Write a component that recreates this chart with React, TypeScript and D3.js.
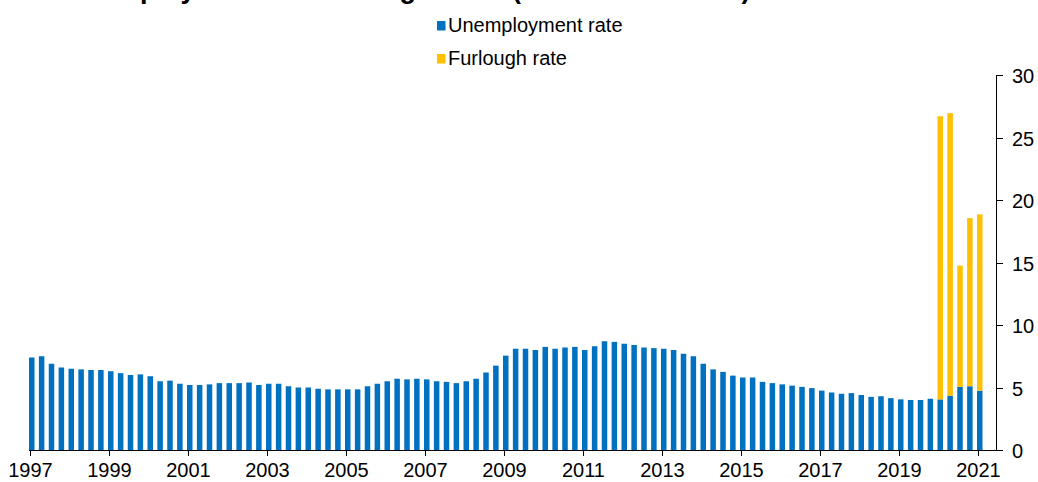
import React from "react";
import * as d3 from "d3";

const TITLE = "Unemployment and furlough rates (% of labour force)";
const START_YEAR = 1997;
const unemployment = [
  7.4, 7.5, 6.9, 6.6, 6.5, 6.45, 6.4, 6.4,
  6.3, 6.15, 6.0, 6.05, 5.9, 5.5, 5.55, 5.3,
  5.2, 5.2, 5.25, 5.35, 5.35, 5.35, 5.4, 5.2,
  5.3, 5.3, 5.1, 5.0, 5.0, 4.9, 4.85, 4.85,
  4.85, 4.85, 5.1, 5.3, 5.5, 5.7, 5.65, 5.7,
  5.65, 5.5, 5.45, 5.35, 5.5, 5.7, 6.2, 6.75,
  7.55, 8.1, 8.1, 8.0, 8.25, 8.1, 8.2, 8.25,
  8.0, 8.3, 8.7, 8.65, 8.5, 8.4, 8.2, 8.15,
  8.1, 8.0, 7.7, 7.5, 6.9, 6.45, 6.25, 5.95,
  5.8, 5.8, 5.45, 5.35, 5.25, 5.15, 5.05, 4.95,
  4.75, 4.6, 4.5, 4.55, 4.4, 4.25, 4.3, 4.15,
  4.05, 4.0, 4.0, 4.1, 4.05, 4.35, 5.05, 5.1,
  4.75,
];
// furlough rate, aligned to the last five quarters
const furlough = [22.65, 22.6, 9.7, 13.45, 14.1];
const xTickYears = [1997, 1999, 2001, 2003, 2005, 2007, 2009, 2011, 2013, 2015, 2017, 2019, 2021];
const yTicks = [0, 5, 10, 15, 20, 25, 30];
const legendItems = [
  { label: "Unemployment rate", color: "#0070C0" },
  { label: "Furlough rate", color: "#FFC000" },
];

const BLUE = "#0070C0";
const YELLOW = "#FFC000";
const FONT = "'Liberation Sans', Arial, sans-serif";

export default function App() {
  const W = 1038;
  const H = 482;
  const n = unemployment.length;
  const furloughStart = n - furlough.length;

  const x = d3.scaleLinear().domain([0, n - 1]).range([30, 978]);
  const y = d3.scaleLinear().domain([0, 30]).range([450, 75]);
  const barW = 5.5;
  const axisRight = 996;

  const yearIndex = (yr: number) => (yr - START_YEAR) * 4;

  return (
    <svg
      width={W}
      height={H}
      style={{ position: "absolute", left: 0, top: 0, display: "block", background: "#fff" }}
      fontFamily={FONT}
    >
      <text x={65} y={-2.5} fontSize={27} fontWeight="bold" fill="#000">
        {TITLE}
      </text>

      {/* legend */}
      {legendItems.map((it, i) => (
        <g key={it.label} transform={`translate(437, ${21 + i * 33})`}>
          <rect x={0} y={0} width={8.5} height={9.5} fill={it.color} />
          <text x={11} y={11} fontSize={20} fill="#000">
            {it.label}
          </text>
        </g>
      ))}

      {/* bars */}
      {unemployment.map((v, i) => (
        <rect
          key={"u" + i}
          x={x(i) - 1}
          y={y(v)}
          width={barW}
          height={y(0) - y(v)}
          fill={BLUE}
        />
      ))}
      {furlough.map((f, j) => {
        const i = furloughStart + j;
        const base = unemployment[i];
        return (
          <rect
            key={"f" + j}
            x={x(i) - 1}
            y={y(base + f)}
            width={barW}
            height={y(base) - y(base + f)}
            fill={YELLOW}
          />
        );
      })}

      {/* x axis */}
      <line x1={x(0) - 1} x2={axisRight} y1={450.5} y2={450.5} stroke="#000" strokeWidth={1} />
      {xTickYears.map((yr) => {
        const px = Math.round(x(yearIndex(yr))) + 0.5;
        return (
          <g key={yr}>
            <line x1={px} x2={px} y1={450} y2={456} stroke="#000" strokeWidth={1} />
            <text x={px} y={477} fontSize={20} textAnchor="middle" fill="#000">
              {yr}
            </text>
          </g>
        );
      })}

      {/* y axis */}
      <line x1={axisRight + 0.5} x2={axisRight + 0.5} y1={y(30)} y2={450.5} stroke="#000" strokeWidth={1} />
      {yTicks.map((t) => {
        const py = Math.round(y(t)) + 0.5;
        return (
          <g key={t}>
            <line x1={axisRight} x2={axisRight + 7} y1={py} y2={py} stroke="#000" strokeWidth={1} />
            <text x={1012} y={py + 7} fontSize={20} fill="#000">
              {t}
            </text>
          </g>
        );
      })}
    </svg>
  );
}
